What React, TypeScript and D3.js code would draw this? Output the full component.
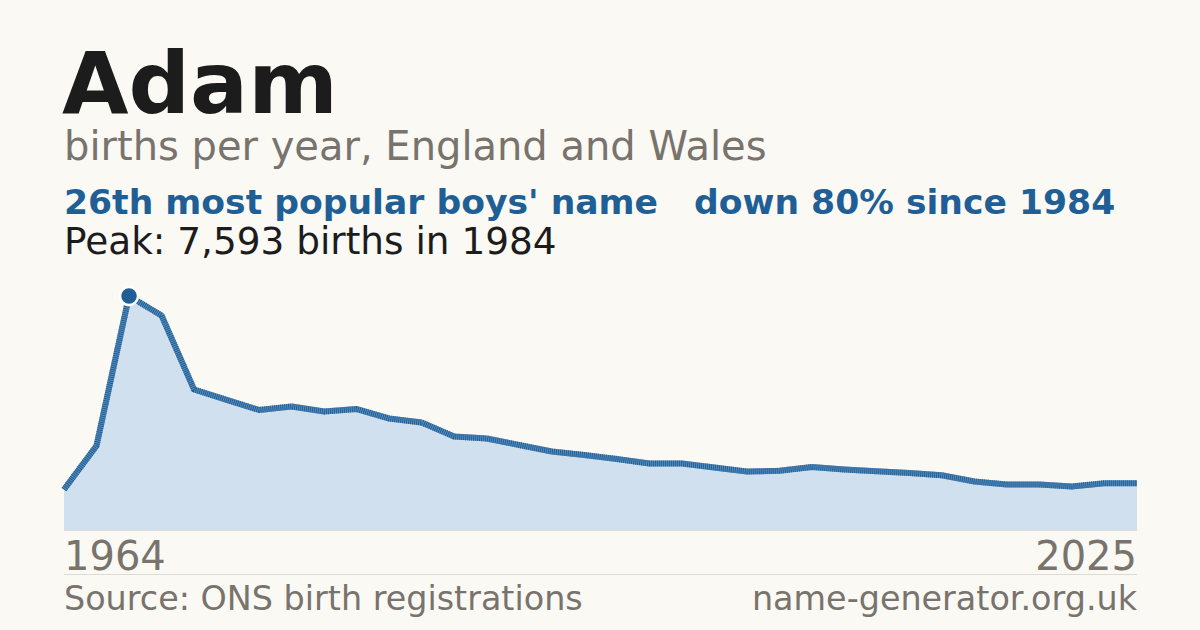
import React from "react";
import * as d3 from "d3";

const years: number[] = [1964, 1974, 1984, 1994, 1996, 1997, 1998, 1999, 2000, 2001, 2002, 2003, 2004, 2005, 2006, 2007, 2008, 2009, 2010, 2011, 2012, 2013, 2014, 2015, 2016, 2017, 2018, 2019, 2020, 2021, 2022, 2023, 2024, 2025];
const births: number[] = [1314, 2736, 7593, 6960, 4559, 4225, 3894, 4008, 3845, 3926, 3618, 3488, 3034, 2969, 2758, 2547, 2434, 2304, 2158, 2158, 2028, 1898, 1921, 2044, 1963, 1905, 1850, 1775, 1574, 1476, 1476, 1412, 1519, 1519];
const title = "Adam";
const subtitle = "births per year, England and Wales";
const rankText = "26th most popular boys' name";
const changeText = "down 80% since 1984";
const peakText = "Peak: 7,593 births in 1984";
const sourceText = "Source: ONS birth registrations";
const siteText = "name-generator.org.uk";

const W = 1200, H = 630;
const L = 64, R = 1137, TOP = 296, BOT = 530;
const FONT = "'DejaVu Sans', sans-serif";

export default function App() {
  const x = d3.scalePoint<number>().domain(years).range([L, R]);
  const y = d3.scaleLinear().domain([0, d3.max(births) as number]).range([BOT, TOP]);
  const pts = years.map((yr, i) => ({ yr, v: births[i] }));
  const area = d3.area<{ yr: number; v: number }>().x(d => x(d.yr) as number).y0(BOT).y1(d => y(d.v));
  const line = d3.line<{ yr: number; v: number }>().x(d => x(d.yr) as number).y(d => y(d.v));
  const peakIdx = births.indexOf(d3.max(births) as number);
  const px = x(years[peakIdx]) as number;
  const py = y(births[peakIdx]);
  return (
    <svg width={W} height={H} style={{ position: "absolute", left: 0, top: 0, display: "block" }} fontFamily={FONT}>
      <rect width={W} height={H} fill="#faf9f4" />
      <text x={L - 2} y={113} fontSize={86} fontWeight="bold" fill="#1c1c1c">{title}</text>
      <text x={L} y={160} fontSize={40} fill="#78736c">{subtitle}</text>
      <text x={L} y={214} fontSize={34.6} fontWeight="bold" fill="#1f5f96">{rankText}</text>
      <text x={694} y={214} fontSize={34.6} fontWeight="bold" fill="#1f5f96">{changeText}</text>
      <text x={L} y={254} fontSize={37.4} fill="#1c1c1c">{peakText}</text>
      <path d={area(pts) as string} fill="#d0e0ef" />
      <line x1={L} x2={R} y1={BOT + 0.5} y2={BOT + 0.5} stroke="#dedad3" strokeWidth={1} />
      <path d={line(pts) as string} fill="none" stroke="#5a8cbb" strokeWidth={6} strokeLinejoin="round" />
      <path d={line(pts) as string} fill="none" stroke="#1f5f96" strokeWidth={6} strokeDasharray="1 1" strokeLinejoin="round" />
      <circle cx={px} cy={py} r={9} fill="#1f5f96" stroke="#ffffff" strokeWidth={2.5} />
      <text x={L} y={570} fontSize={40} fill="#78736c">{years[0]}</text>
      <text x={R} y={570} fontSize={40} fill="#78736c" textAnchor="end">{years[years.length - 1]}</text>
      <line x1={L} x2={R} y1={574.5} y2={574.5} stroke="#dedad3" strokeWidth={1} />
      <text x={L} y={610} fontSize={33.4} fill="#78736c">{sourceText}</text>
      <text x={R} y={610} fontSize={33.4} fill="#78736c" textAnchor="end">{siteText}</text>
    </svg>
  );
}
